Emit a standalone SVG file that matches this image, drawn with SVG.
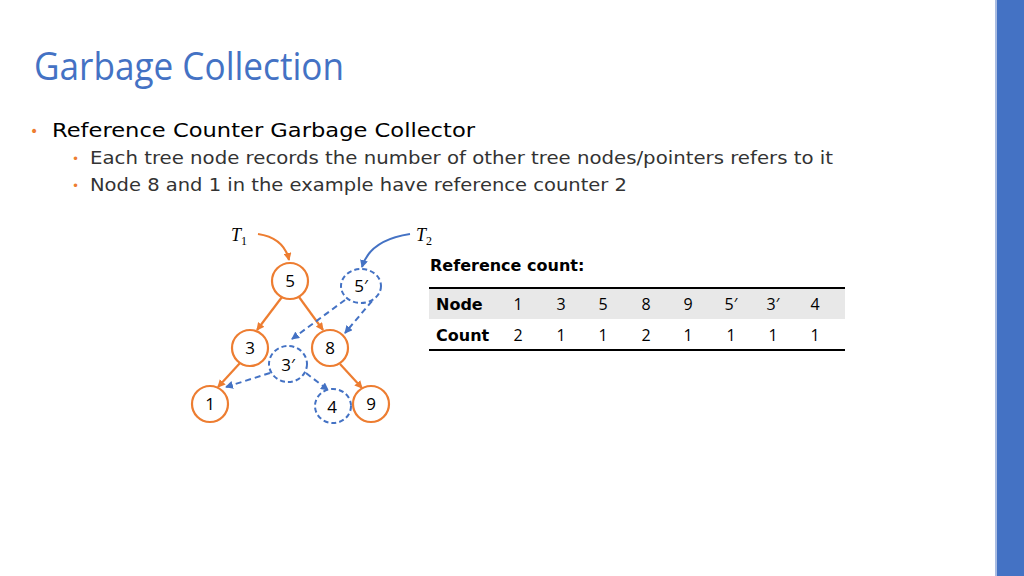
<svg xmlns="http://www.w3.org/2000/svg" width="1024" height="576" viewBox="0 0 1024 576">
<defs>
<style>
.o{fill:#fff;stroke:#ED7D31;stroke-width:2.2}
.b{fill:#fff;stroke:#4472C4;stroke-width:2;stroke-dasharray:5,3}
.eo{stroke:#ED7D31;stroke-width:2.2;fill:none;marker-end:url(#ao)}
.eb{stroke:#4472C4;stroke-width:2;fill:none;stroke-dasharray:6,4;marker-end:url(#ab)}
.n{font-family:"Open Sans","DejaVu Sans",sans-serif;font-size:17px;text-anchor:middle;fill:#000}
.tb{font-family:"DejaVu Sans",sans-serif;font-size:16px;font-weight:bold;fill:#000}
.c{font-family:"Open Sans","DejaVu Sans",sans-serif;font-size:16px;text-anchor:middle}
.body{font-family:"DejaVu Sans",sans-serif;font-size:17px;fill:#333}
</style>
<marker id="ao" markerWidth="8" markerHeight="8" refX="7" refY="4" orient="auto" markerUnits="userSpaceOnUse"><path d="M0,0 L8,4 L0,8 Z" fill="#ED7D31"/></marker>
<marker id="ab" markerWidth="8" markerHeight="8" refX="7" refY="4" orient="auto" markerUnits="userSpaceOnUse"><path d="M0,0 L8,4 L0,8 Z" fill="#4472C4"/></marker>
</defs>
<rect width="1024" height="576" fill="#fff"/>
<rect x="997" y="0" width="27" height="576" fill="#4472C4"/>
<rect x="995" y="0" width="2" height="576" fill="#A9BCE2"/>
<text x="34" y="80" font-family="'Open Sans','DejaVu Sans',sans-serif" font-size="38" fill="#4472C4" textLength="310" lengthAdjust="spacingAndGlyphs">Garbage Collection</text>
<text x="30" y="136" font-family="DejaVu Sans,sans-serif" font-size="14" fill="#ED7D31">•</text>
<text x="52" y="137" font-family="DejaVu Sans,sans-serif" font-size="20" fill="#000" textLength="423" lengthAdjust="spacingAndGlyphs">Reference Counter Garbage Collector</text>
<text x="72" y="163" font-family="DejaVu Sans,sans-serif" font-size="12" fill="#ED7D31">•</text>
<text class="body" x="90" y="164" textLength="743" lengthAdjust="spacingAndGlyphs">Each tree node records the number of other tree nodes/pointers refers to it</text>
<text x="72" y="190" font-family="DejaVu Sans,sans-serif" font-size="12" fill="#ED7D31">•</text>
<text class="body" x="90" y="191" textLength="537" lengthAdjust="spacingAndGlyphs">Node 8 and 1 in the example have reference counter 2</text>
<text x="231" y="241" font-family="'Liberation Serif',serif" font-size="18" font-style="italic">T<tspan font-size="12" font-style="normal" dy="4">1</tspan></text>
<text x="416" y="241" font-family="'Liberation Serif',serif" font-size="18" font-style="italic">T<tspan font-size="12" font-style="normal" dy="4">2</tspan></text>
<g id="connectors">
<path class="eo" d="M258,234 Q284,238 289,260"/>
<path class="eo" d="M282,297 L257,330"/>
<path class="eo" d="M299,297 L323,330"/>
<path class="eo" d="M240,363 L218,387"/>
<path class="eo" d="M340,364 L362,388"/>
<path d="M410,234 Q370,240 362,267" stroke="#4472C4" stroke-width="2" fill="none" marker-end="url(#ab)"/>
<path class="eb" d="M345,300 L292,339"/>
<path class="eb" d="M372,301 L345,333"/>
<path class="eb" d="M270,373 L226,387"/>
<path class="eb" d="M306,373 L328,390"/>
</g>
<g id="n5"><circle class="o" cx="290" cy="281" r="18"/><text class="n" x="290" y="287">5</text></g>
<g id="n5p"><ellipse class="b" cx="361" cy="286" rx="20" ry="17"/><text class="n" x="361" y="292">5′</text></g>
<g id="n3"><circle class="o" cx="250" cy="348" r="18"/><text class="n" x="250" y="354">3</text></g>
<g id="n8"><circle class="o" cx="330" cy="348" r="18"/><text class="n" x="330" y="354">8</text></g>
<g id="n3p"><ellipse class="b" cx="288" cy="364" rx="19" ry="18"/><text class="n" x="288" y="371">3′</text></g>
<g id="n1"><circle class="o" cx="210" cy="404" r="18"/><text class="n" x="210" y="410">1</text></g>
<g id="n4"><ellipse class="b" cx="333" cy="406" rx="18" ry="17"/><text class="n" x="332" y="413">4</text></g>
<g id="n9"><circle class="o" cx="371" cy="404" r="18"/><text class="n" x="371" y="410">9</text></g>
<g id="table">
<text class="tb" x="430" y="271">Reference count:</text>
<rect x="429" y="288" width="416" height="31" fill="#E8E8E8"/>
<line x1="429" y1="288" x2="845" y2="288" stroke="#000" stroke-width="2"/>
<line x1="429" y1="350" x2="845" y2="350" stroke="#000" stroke-width="2"/>
<text class="tb" x="436" y="310">Node</text>
<text class="tb" x="436" y="341">Count</text>
<g class="c">
<text x="518" y="310">1</text><text x="561" y="310">3</text><text x="603" y="310">5</text><text x="646" y="310">8</text><text x="688" y="310">9</text><text x="731" y="310">5′</text><text x="773" y="310">3′</text><text x="815" y="310">4</text>
<text x="518" y="341">2</text><text x="561" y="341">1</text><text x="603" y="341">1</text><text x="646" y="341">2</text><text x="688" y="341">1</text><text x="731" y="341">1</text><text x="773" y="341">1</text><text x="815" y="341">1</text>
</g>
</g>
</svg>
